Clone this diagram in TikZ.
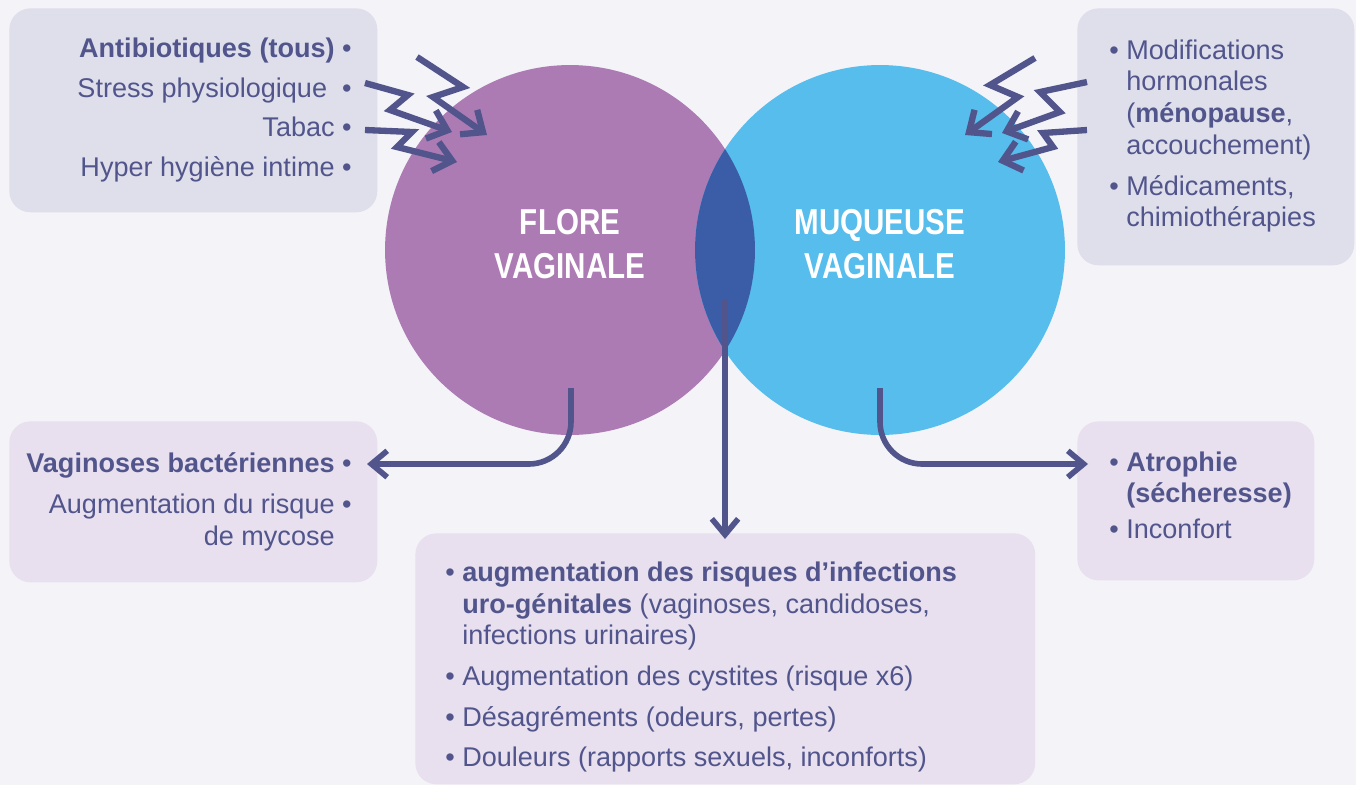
\documentclass[tikz,border=0pt]{standalone}
\usepackage{fontspec}
\setmainfont{Liberation Sans}
\newfontfamily\titrefont[FakeStretch=0.82]{Liberation Sans}
\usetikzlibrary{arrows.meta}
\definecolor{fond}{HTML}{F4F3F8}
\definecolor{gris}{HTML}{DFDFEB}
\definecolor{mauve}{HTML}{E8E0EF}
\definecolor{flore}{HTML}{AC7BB4}
\definecolor{muqueuse}{HTML}{56BDEC}
\definecolor{lentille}{HTML}{3B5DA8}
\definecolor{encre}{HTML}{51558C}
\newcommand{\retrait}{\phantom{\textbullet\ }}
\newcommand{\eclair}[4]{\draw[zap] (#1) -- (#2) -- (#3) -- (#4);}

\begin{document}
\begin{tikzpicture}[x=0.02cm,y=-0.02cm,
  boite/.style={rounded corners=12pt,anchor=north west,inner sep=0},
  cercle/.style={circle,minimum size=7.4cm,inner sep=0},
  titre/.style={text=white,align=center,font=\titrefont\bfseries\fontsize{20.5}{25.5}\selectfont},
  texte/.style={text=encre,inner sep=0,font=\fontsize{15.4}{18.1}\selectfont},
  zap/.style={draw=encre,line width=3.6pt,-{Straight Barb[length=10pt,width=17pt,sharp]}},
  fleche/.style={draw=encre,line width=3.2pt,rounded corners=24pt,-{Straight Barb[length=9pt,width=15pt,sharp]}}]
  \useasboundingbox (0,0) rectangle (1356,785);
  \fill[fond] (0,0) rectangle (1356,785);

  \node[boite,fill=gris,minimum width=7.36cm,minimum height=4.08cm] (bCauses) at (9,8) {};
  \node[boite,fill=gris,minimum width=5.54cm,minimum height=5.14cm] (bHormones) at (1077,8) {};
  \node[boite,fill=mauve,minimum width=7.36cm,minimum height=3.22cm] (bVaginoses) at (9,421) {};
  \node[boite,fill=mauve,minimum width=12.4cm,minimum height=5.02cm] (bRisques) at (415,533) {};
  \node[boite,fill=mauve,minimum width=4.74cm,minimum height=3.18cm] (bAtrophie) at (1077,421) {};

  \node[cercle,fill=flore] (flore) at (570,250) {};
  \node[cercle,fill=muqueuse] (muqueuse) at (880,250) {};
  \begin{scope}
    \clip (flore.center) circle (3.7cm);
    \fill[lentille] (muqueuse.center) circle (3.7cm);
  \end{scope}
  \node[titre] (tFlore) at (570,244) {FLORE\\VAGINALE};
  \node[titre] (tMuqueuse) at (880,244) {MUQUEUSE\\VAGINALE};

  \node[texte,align=right,anchor=east,font=\fontsize{15.4}{22.7}\selectfont] (causes) at (352,110)
    {\textbf{Antibiotiques (tous)} \textbullet\\Stress physiologique\ \ \textbullet\\Tabac \textbullet\\Hyper hygiène intime \textbullet};
  \node[texte,align=left,anchor=west] (hormones) at (1109,136)
    {\textbullet\ Modifications\\\retrait hormonales\\\retrait(\textbf{ménopause},\\\retrait accouchement)\\[5pt]
     \textbullet\ Médicaments,\\\retrait chimiothérapies};
  \node[texte,align=left,anchor=west] (risques) at (445,667)
    {\textbullet\ \textbf{augmentation des risques d’infections}\\\retrait\textbf{uro-génitales} (vaginoses, candidoses,\\\retrait infections urinaires)\\[5pt]
     \textbullet\ Augmentation des cystites (risque x6)\\[5pt]
     \textbullet\ Désagréments (odeurs, pertes)\\[5pt]
     \textbullet\ Douleurs (rapports sexuels, inconforts)};
  \node[texte,align=right,anchor=east] (vaginoses) at (352,502)
    {\textbf{Vaginoses bactériennes} \textbullet\\[5pt]Augmentation du risque \textbullet\\de mycose\retrait};
  \node[texte,align=left,anchor=west] (atrophie) at (1109,495)
    {\textbullet\ \textbf{Atrophie}\\\retrait\textbf{(sécheresse)}\\[2pt]\textbullet\ Inconfort};

  \eclair{417,57}{463,87}{433,97}{487,135}
  \eclair{365,83}{408,95}{390,110}{452,132}
  \eclair{365,130}{412,132}{397,147}{457,162}
  \eclair{1035,58}{990,85}{1018,97}{965,135}
  \eclair{1087,82}{1040,92}{1060,112}{1002,133}
  \eclair{1087,130}{1043,133}{1053,147}{998,162}

  \coordinate (dFlore) at (571,388);
  \coordinate (aFlore) at (367,464);
  \coordinate (dMuqueuse) at (880,388);
  \coordinate (aMuqueuse) at (1088,464);
  \coordinate (dLentille) at (725,299);
  \coordinate (aLentille) at (725,539);
  \draw[fleche] (dFlore) |- (aFlore);
  \draw[fleche] (dMuqueuse) |- (aMuqueuse);
  \draw[fleche] (dLentille) -- (aLentille);
\end{tikzpicture}
\end{document}
